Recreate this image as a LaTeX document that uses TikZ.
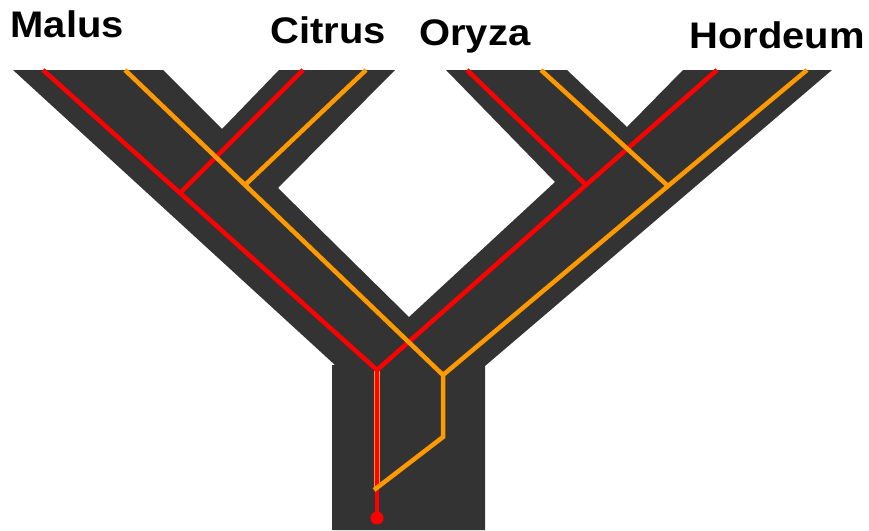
\documentclass[tikz,border=0pt]{standalone}
\usepackage{fontspec}
\setmainfont{Liberation Sans}
\definecolor{treegray}{HTML}{333333}
\definecolor{lred}{HTML}{FF0000}
\definecolor{lorange}{HTML}{FF9900}
\newcommand{\widelbl}[1]{\scalebox{1.08}[1]{#1}}
\begin{document}
\begin{tikzpicture}[x=1pt,y=-1pt,
  label/.style={anchor=base west,inner sep=0pt,font=\fontsize{37}{40}\selectfont\bfseries},
  redline/.style={draw=lred,line width=4.5pt,line join=miter},
  orline/.style={draw=lorange,line width=4.5pt,line join=miter}]
\useasboundingbox (0,0) rectangle (869,530);
% tree body
\fill[treegray] (13,70) -- (163,70) -- (222,129) -- (279,70) -- (395,70) -- (278,188)
  -- (409,317) -- (555,182) -- (446,70) -- (567,70) -- (627,127) -- (683,70)
  -- (832,70) -- (485,366) -- (485,530) -- (332,530) -- (332,365) -- (335,365) -- cycle;
% coordinates
\coordinate (mr) at (43,70);
\coordinate (cr) at (303,70);
\coordinate (mo) at (125,70);
\coordinate (co) at (366,70);
\coordinate (or) at (467,70);
\coordinate (oo) at (541,70);
\coordinate (hr) at (717,70);
\coordinate (ho) at (807,70);
\coordinate (jlr) at (180,193);
\coordinate (jlo) at (245,185);
\coordinate (jrr) at (586,185);
\coordinate (jro) at (668,186);
\coordinate (tr) at (377,370);
\coordinate (to) at (443,375);
\coordinate (tob) at (443,437);
\coordinate (toe) at (374,490);
\coordinate (trb) at (377,518);
% trunk red with orange edging
\draw[lorange,line width=5.5pt] (377,371) -- (377,488);
\draw[lred,line width=4pt] (tr) -- (trb);
% red lines
\draw[redline] (cr) -- (jlr);
\draw[redline] (mr) -- (jlr) -- (tr);
\draw[redline] (or) -- (jrr);
\draw[redline] (hr) -- (jrr) -- (tr);
% orange lines
\draw[orline] (co) -- (jlo);
\draw[orline] (mo) -- (jlo) -- (to);
\draw[orline] (oo) -- (jro);
\draw[orline] (ho) -- (jro) -- (to);
\draw[orline] (to) -- (tob) -- (toe);
% root dot
\fill[lred] (trb) circle (6.5);
% labels
\node[label] (malus) at (10.5,37) {\widelbl{Malus}};
\node[label] (citrus) at (270,43) {\widelbl{Citrus}};
\node[label] (oryza) at (419,45) {\widelbl{Oryza}};
\node[label] (hordeum) at (689,48) {\widelbl{Hordeum}};
\end{tikzpicture}
\end{document}
